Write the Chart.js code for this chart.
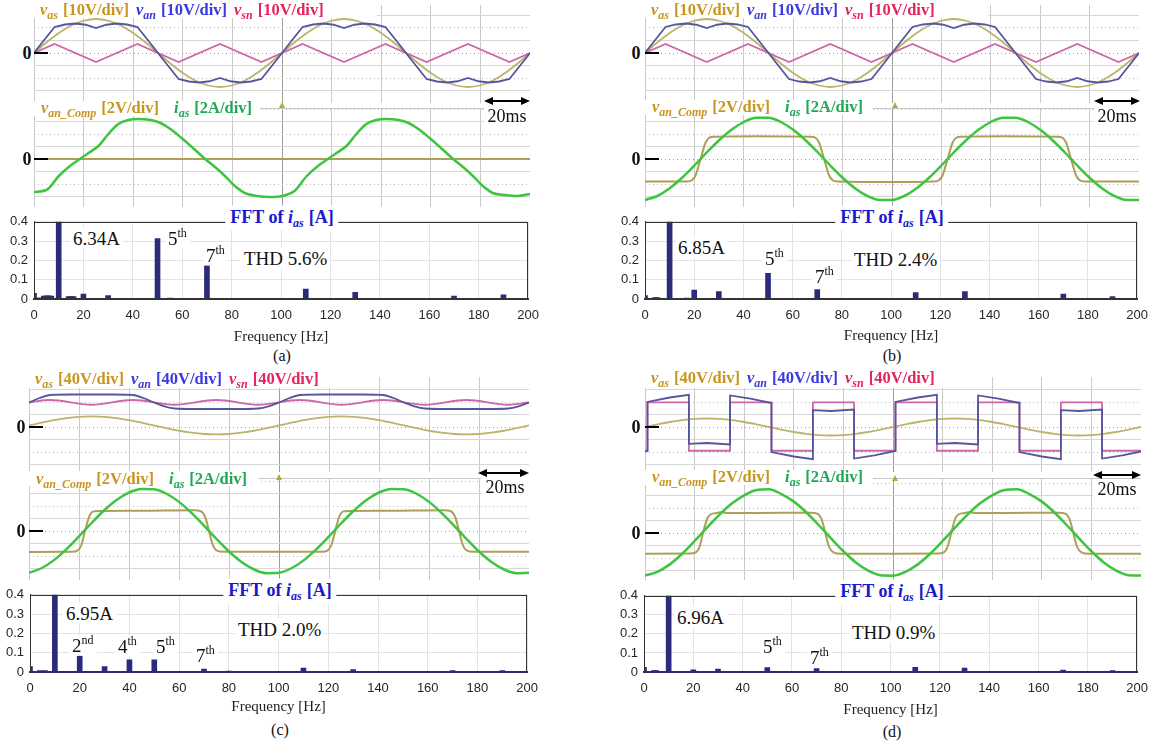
<!DOCTYPE html>
<html><head><meta charset="utf-8">
<script src="https://cdn.jsdelivr.net/npm/chart.js@4.4.1/dist/chart.umd.min.js"></script>
<style>
html,body{margin:0;padding:0;background:#fff}
body{width:1157px;height:747px;position:relative;overflow:hidden;font-family:"Liberation Serif","Times New Roman",serif;color:#111}
canvas{position:absolute}
.box{position:absolute;background:#fff;white-space:nowrap;font-weight:bold;font-size:16.5px;box-sizing:border-box;line-height:1}
.lt{position:absolute;white-space:nowrap;font-weight:bold;font-size:16.5px;line-height:1;transform:translateY(-50%)}
.lt sub,.ft sub{font-size:12px;vertical-align:-4px;font-style:italic;margin-right:5px}
.lt .g{margin-right:7px}
.ann{position:absolute;white-space:nowrap;line-height:1;font-size:19px;background:#fff;padding:1px 3px;transform:translateY(-50%)}
.ann .s{font-size:12px;position:relative;top:-8px}
.zero{position:absolute;font-weight:bold;font-size:18px;line-height:1;transform:translate(-50%,-50%)}
.dash{position:absolute;height:2px;background:#000}
.ft{position:absolute;background:#fff;color:#1a1acb;font-weight:bold;font-size:18px;line-height:1;padding:2px 5px;transform:translate(-50%,-50%);white-space:nowrap}
.cap{position:absolute;font-size:16px;line-height:1;transform:translate(-50%,-50%);white-space:nowrap}
.ms{position:absolute;background:#fff;font-size:18px;line-height:1;display:flex;align-items:center;justify-content:center}
.band{position:absolute;background:#fff;border-bottom:1px solid #c8c8c8;box-sizing:border-box}
.trig{position:absolute;width:0;height:0;border-left:3.5px solid transparent;border-right:3.5px solid transparent;border-bottom:6px solid #b9a640}
</style></head><body>
<script>
// ================= DATA =================
// time bases (ms)
const T5=[0,5,10,15,20,25,30,35,40,45,50,55,60,65,70,75,80,85,90,95,100,105,110,115,120,125,130,135,140,145,150,155,160,165,170,175,180,185,190,195,200];
const T24=[0,4.2,8.3,12.5,16.7,20.8,25,29.2,33.3,37.5,41.7,45.8,50,54.2,58.3,62.5,66.7,70.8,75,79.2,83.3,87.5,91.7,95.8,100,104.2,108.3,112.5,116.7,120.8,125,129.2,133.3,137.5,141.7,145.8,150,154.2,158.3,162.5,166.7,170.8,175,179.2,183.3,187.5,191.7,195.8,200];

// panels (a),(b) upper traces [V]
const vasAB=[0,4.2,8.0,11.0,12.9,13.6,12.9,11.0,8.0,4.2,0,-4.2,-8.0,-11.0,-12.9,-13.6,-12.9,-11.0,-8.0,-4.2,0,4.2,8.0,11.0,12.9,13.6,12.9,11.0,8.0,4.2,0,-4.2,-8.0,-11.0,-12.9,-13.6,-12.9,-11.0,-8.0,-4.2,0];
const vanAB=[0,5.3,10.4,11.4,11.8,11.3,10.0,11.3,11.8,11.4,10.4,5.3,0,-5.3,-10.4,-11.4,-11.8,-11.3,-10.0,-11.3,-11.8,-11.4,-10.4,-5.3,0,5.3,10.4,11.4,11.8,11.3,10.0,11.3,11.8,11.4,10.4,5.3,0,-5.3,-10.4,-11.4,-11.8,-11.3,-10.0,-11.3,-11.8,-11.4,-10.4,-5.3,0];
const vsnAB_t=[0,8.3,25,41.7,58.3,75,91.7,108.3,125,141.7,158.3,175,191.7,200];
const vsnAB=[0,3.6,-3.6,3.6,-3.6,3.6,-3.6,3.6,-3.6,3.6,-3.6,3.6,-3.6,0];

// panel (a) lower traces
const iasA_t=[0,5,10,15,18.5,22,26,30,34,38,42,47,51,55,60,65,69,73,77,81,85,90,95,100,105,110,115,118.5,122,126,130,134,138,142,147,151,155,160,165,169,173,177,181,185,190,195,200];
const iasA=[-2.64,-2.48,-1.36,-0.48,0,0.48,1.04,2.0,2.8,3.12,3.2,3.12,2.88,2.4,1.6,0.72,0,-0.64,-1.36,-2.16,-2.72,-2.96,-3.04,-2.96,-2.56,-1.36,-0.48,0,0.48,1.04,2.0,2.8,3.12,3.2,3.12,2.88,2.4,1.6,0.72,0,-0.64,-1.36,-2.16,-2.72,-2.88,-2.96,-2.8];
const vancA_t=[0,200];
const vancA=[0,0];

// panel (b) lower traces
const iasB=[-3.28,-2.96,-2.34,-1.5,-0.52,0.52,1.5,2.34,2.96,3.3,3.3,2.96,2.34,1.5,0.52,-0.52,-1.5,-2.34,-2.96,-3.28,-3.28,-2.96,-2.34,-1.5,-0.52,0.52,1.5,2.34,2.96,3.3,3.3,2.96,2.34,1.5,0.52,-0.52,-1.5,-2.34,-2.96,-3.28,-3.28];
const vancB_t=[0,17,19,20.5,22.5,24.5,26,28,45,67,69,70.5,72.5,74.5,76,78,100,117,119,120.5,122.5,124.5,126,128,145,167,169,170.5,172.5,174.5,176,178,200];
const vancB=[-1.8,-1.8,-1.7,-1.3,0,1.3,1.7,1.78,1.82,1.78,1.7,1.3,0,-1.3,-1.7,-1.8,-1.84,-1.8,-1.7,-1.3,0,1.3,1.7,1.78,1.82,1.78,1.7,1.3,0,-1.3,-1.7,-1.8,-1.8];

// panel (c) traces
const vasC=[2.5,6.9,11.0,14.1,16.2,16.9,16.2,14.1,11.0,6.9,2.5,-1.9,-6.0,-9.1,-11.2,-11.9,-11.2,-9.1,-6.0,-1.9,2.5,6.9,11.0,14.1,16.2,16.9,16.2,14.1,11.0,6.9,2.5,-1.9,-6.0,-9.1,-11.2,-11.9,-11.2,-9.1,-6.0,-1.9,2.5];
const vanC_t=[0,4.2,8.3,16.7,25,33.3,41.7,45.8,50,54.2,58.3,66.7,75,83.3,91.7,95.8,100,104.2,108.3,116.7,125,133.3,141.7,145.8,150,154.2,158.3,166.7,175,183.3,191.7,195.8,200];
const vanC=[39.2,46.4,51.2,52,52,52,51.2,46.4,39.2,33,29.6,28.8,28.8,28.8,29.6,33,39.2,46.4,51.2,52,52,52,51.2,46.4,39.2,33,29.6,28.8,28.8,28.8,29.6,33,39.2];
const vsnC_t=[0,8.3,25,41.7,58.3,75,91.7,108.3,125,141.7,158.3,175,191.7,200];
const vsnC=[39.2,43.2,35.6,43.2,35.6,43.2,35.6,43.2,35.6,43.2,35.6,43.2,35.6,39.2];
const iasC=[-3.34,-2.98,-2.33,-1.45,-0.43,0.64,1.64,2.48,3.08,3.37,3.34,2.98,2.33,1.45,0.43,-0.64,-1.64,-2.48,-3.08,-3.37,-3.34,-2.98,-2.33,-1.45,-0.43,0.64,1.64,2.48,3.08,3.37,3.34,2.98,2.33,1.45,0.43,-0.64,-1.64,-2.48,-3.08,-3.37,-3.34];
const vancC_t=[0,17,19.5,21,22.4,24,25.5,28,45,66,68.5,70.5,72,73.5,75,78,100,117,119.5,121,122.5,124,125.5,128,145,166,168.5,170.5,172,173.5,175,178,200];
const vancC=[-1.68,-1.66,-1.55,-1.1,0,1.1,1.55,1.6,1.62,1.66,1.6,1.1,0,-1.1,-1.55,-1.66,-1.66,-1.66,-1.55,-1.1,0,1.1,1.55,1.6,1.62,1.66,1.6,1.1,0,-1.1,-1.55,-1.66,-1.66];

// panel (d) traces
const vasD=[0,4.2,8.0,11.0,12.9,13.6,12.9,11.0,8.0,4.2,0,-4.2,-8.0,-11.0,-12.9,-13.6,-12.9,-11.0,-8.0,-4.2,0,4.2,8.0,11.0,12.9,13.6,12.9,11.0,8.0,4.2,0,-4.2,-8.0,-11.0,-12.9,-13.6,-12.9,-11.0,-8.0,-4.2,0];
const vsnD_t=[0,1,1,17.7,17.7,34.3,34.3,51,51,67.7,67.7,84.3,84.3,101,101,117.7,117.7,134.3,134.3,151,151,167.7,167.7,184.3,184.3,200];
const vsnD=[-38,-38,39.5,39.5,-38,-38,39.5,39.5,-38,-38,39.5,39.5,-38,-38,39.5,39.5,-38,-38,39.5,39.5,-38,-38,39.5,39.5,-38,-38];
const vanD_t=[0,1,1,10,17.7,17.7,25,34.3,34.3,42.5,51,51,60,67.7,67.7,75,84.3,84.3,92.5,101,101,110,117.7,117.7,125,134.3,134.3,142.5,151,151,160,167.7,167.7,175,184.3,184.3,192.5,200];
const vanD=[-39.2,-38.4,40.1,47.2,51.4,-27.0,-25.6,-27.9,50.5,45.4,38.4,-40.1,-47.2,-51.4,27.0,25.6,27.9,-50.5,-45.4,-38.4,40.1,47.2,51.4,-27.0,-25.6,-27.9,50.5,45.4,38.4,-40.1,-47.2,-51.4,27.0,25.6,27.9,-50.5,-45.4,-39.2];
const iasD=[-3.41,-3.11,-2.51,-1.66,-0.64,0.43,1.46,2.36,3.01,3.44,3.5,3.11,2.51,1.66,0.64,-0.43,-1.46,-2.36,-3.01,-3.38,-3.41,-3.11,-2.51,-1.66,-0.64,0.43,1.46,2.36,3.01,3.44,3.5,3.11,2.51,1.66,0.64,-0.43,-1.46,-2.36,-3.01,-3.38,-3.41];
const vancD_t=[0,18,20.5,22,23.4,25,26.5,29,31,33,45,67,69.5,71.2,72.7,74.2,76,79,100,118,120.5,122,123.5,125,126.5,129,131,133,145,167,169.5,171.2,172.7,174.2,176,179,200];
const vancD=[-1.66,-1.64,-1.55,-1.1,0,1.1,1.5,1.6,1.68,1.6,1.6,1.62,1.55,1.1,0,-1.1,-1.55,-1.66,-1.66,-1.64,-1.55,-1.1,0,1.1,1.5,1.6,1.68,1.6,1.6,1.62,1.55,1.1,0,-1.1,-1.55,-1.66,-1.66];

// FFT of ias [A]
const fftA_f=[0,2,4,5,6,7,10,14,15,16,20,30,40,50,55,70,90,110,130,150,170,190];
const fftA=[0.03,0.006,0.015,0.017,0.016,0.015,6.34,0.012,0.013,0.012,0.025,0.018,0.004,0.313,0.005,0.173,0.003,0.051,0.035,0.004,0.015,0.021];
const fftB_f=[0,4,5,10,17,20,25,30,40,50,70,110,130,150,170,190];
const fftB=[0.018,0.008,0.008,6.85,0.005,0.046,0.003,0.038,0.003,0.133,0.049,0.033,0.038,0.003,0.026,0.013];
const fftC_f=[0,4,6,10,15,17,20,30,40,50,70,80,110,130,150,170,190];
const fftC=[0.028,0.008,0.007,6.95,0.004,0.004,0.082,0.028,0.063,0.063,0.015,0.005,0.02,0.013,0.003,0.008,0.008];
const fftD_f=[0,4,5,10,15,20,30,50,70,110,130,170,190];
const fftD=[0.025,0.008,0.008,6.96,0.004,0.012,0.015,0.023,0.018,0.025,0.02,0.01,0.007];

// tick labels
const fftXTicks=[0,20,40,60,80,100,120,140,160,180,200];
const fftYTicks=[0,0.1,0.2,0.3,0.4];

// ================= HELPERS =================
function cv(x,y,w,h){const c=document.createElement('canvas');c.width=w;c.height=h;c.style.left=x+'px';c.style.top=y+'px';c.style.width=w+'px';c.style.height=h+'px';document.body.appendChild(c);return c;}
function el(html){document.body.insertAdjacentHTML('beforeend',html);}
function tr(t,v,div,off,color,w,smooth){
  const d={data:t.map((x,i)=>({x:x,y:v[i]/div+off})),borderColor:color,borderWidth:w,pointRadius:0,fill:false,tension:0};
  if(smooth){d.cubicInterpolationMode='monotone';}
  return d;
}
const C_VAS='#bcb46a',C_VAN='#55569e',C_VSN='#cd67a5',C_IAS='#3ec43f',C_VANC='#ad9f55';

function scope(r,yMin,yMax,up,datasets){
  const c=cv(r[0],r[1],r[2],r[3]);
  const tk=[];
  for(let k=-4;k<=4;k++){tk.push({v:k*0.5,k:k});tk.push({v:up+k*0.5,k:k});}
  const list=tk.filter(o=>o.v>yMin+0.02&&o.v<yMax-0.02);
  const kind=v=>{const o=list.find(q=>Math.abs(q.v-v)<1e-6);return o?o.k:1;};
  new Chart(c,{type:'line',data:{datasets:datasets},options:{responsive:false,animation:false,devicePixelRatio:1,events:[],
    layout:{padding:0},plugins:{legend:{display:false},tooltip:{enabled:false}},
    scales:{
      x:{type:'linear',min:0,max:200,ticks:{display:false,stepSize:20},
         grid:{drawTicks:false,color:ctx=>(ctx.tick&&ctx.tick.value===100)?'#9c9c9c':'#c9c9c9'},border:{display:false}},
      y:{type:'linear',min:yMin,max:yMax,ticks:{display:false},
         afterBuildTicks:s=>{s.ticks=list.map(o=>({value:o.v}));},
         grid:{drawTicks:false,color:ctx=>{const k=ctx.tick?kind(ctx.tick.value):1;return k===0?'#9e9e9e':(Math.abs(k)%2===1?'#d6d6d6':'#bdbdbd');}},
         border:{display:false,dash:ctx=>{const k=ctx.tick?kind(ctx.tick.value):1;return (Math.abs(k)%2===1)?[]:[1,3];}}}
    }}});
}

const boxPlugin={id:'box',afterDraw(ch){const a=ch.chartArea,x=ch.ctx;x.save();x.strokeStyle='#333';x.lineWidth=1;x.strokeRect(Math.round(a.left)+0.5,Math.round(a.top)+0.5,Math.round(a.right-a.left)-1,Math.round(a.bottom-a.top)-1);x.restore();}};

function fftChart(p,f,v){
  const left=p.L-p.yw,top=p.T-10,w=p.R-p.L+p.yw+18,h=p.B-p.T+10+p.xh;
  const c=cv(left,top,w,h);
  new Chart(c,{type:'bar',data:{datasets:[{data:f.map((x,i)=>({x:x,y:v[i]})),backgroundColor:'#2b2b7c',barThickness:5,borderWidth:0}]},
    options:{responsive:false,animation:false,devicePixelRatio:1,events:[],
      layout:{padding:{top:10,right:18,left:0,bottom:0}},plugins:{legend:{display:false},tooltip:{enabled:false}},
      scales:{
        x:{type:'linear',min:0,max:200,offset:false,afterBuildTicks:s=>{s.ticks=fftXTicks.map(q=>({value:q}));},
           ticks:{font:{family:'Liberation Sans',size:13},color:'#262626',padding:9,maxRotation:0,autoSkip:false},
           grid:{offset:false,color:'#e3e3e3',drawTicks:false},border:{color:'#2b2b70',width:2},
           title:{display:true,text:'Frequency [Hz]',font:{family:'Liberation Serif',size:15},color:'#222',padding:0},
           afterFit:s=>{s.height=p.xh;}},
        y:{min:0,max:0.4,afterBuildTicks:s=>{s.ticks=fftYTicks.map(q=>({value:q}));},
           ticks:{font:{family:'Liberation Sans',size:13},color:'#262626',padding:6,callback:q=>q===0?'0':q.toFixed(1)},
           grid:{color:'#e3e3e3',drawTicks:false},border:{color:'#333'},afterFit:s=>{s.width=p.yw;}}
      }},plugins:[boxPlugin]});
}

// ================= SCOPES =================
scope([34,5,496,202],-1.92,6.16,4.24,[
  tr(T24,vanAB,10,4.24,C_VAN,1.8,false),
  tr(vsnAB_t,vsnAB,10,4.24,C_VSN,1.8,false),
  tr(T5,vasAB,10,4.24,C_VAS,1.8,true),
  tr(iasA_t,iasA,2,0,C_IAS,2.5,true),
  tr(vancA_t,vancA,2,0,C_VANC,2,false)
]);
scope([645,5,494,202],-1.92,6.16,4.24,[
  tr(T24,vanAB,10,4.24,C_VAN,1.8,false),
  tr(vsnAB_t,vsnAB,10,4.24,C_VSN,1.8,false),
  tr(T5,vasAB,10,4.24,C_VAS,1.8,true),
  tr(T5,iasB,2,0,C_IAS,2.5,true),
  tr(vancB_t,vancB,2,0,C_VANC,2,true)
]);
scope([29,377,500,203],-1.96,6.16,4.16,[
  tr(vanC_t,vanC,40,4.16,C_VAN,1.8,true),
  tr(vsnC_t,vsnC,40,4.16,C_VSN,1.8,true),
  tr(T5,vasC,40,4.16,C_VAS,1.8,true),
  tr(T5,iasC,2,0,C_IAS,2.5,true),
  tr(vancC_t,vancC,2,0,C_VANC,2,true)
]);
scope([645,377,496,203],-1.88,6.24,4.24,[
  tr(vanD_t,vanD,40,4.24,C_VAN,1.8,false),
  tr(vsnD_t,vsnD,40,4.24,C_VSN,1.8,false),
  tr(T5,vasD,40,4.24,C_VAS,1.8,true),
  tr(T5,iasD,2,0,C_IAS,2.5,true),
  tr(vancD_t,vancD,2,0,C_VANC,2,true)
]);

// ================= FFTs =================
fftChart({L:34,T:218,R:530,B:299,yw:34,xh:47},fftA_f,fftA);
fftChart({L:645,T:218,R:1139,B:299,yw:40,xh:46},fftB_f,fftB);
fftChart({L:30,T:591,R:529,B:672,yw:30,xh:44},fftC_f,fftC);
fftChart({L:644,T:592,R:1139,B:672,yw:40,xh:47},fftD_f,fftD);

// ================= OVERLAY TEXT =================
function legendTop(bx,by,bw,bh,cy,div){
  el(`<div class="box" style="left:${bx}px;top:${by}px;width:${bw}px;height:${bh}px"></div>`);
  el(`<div class="lt" style="left:${bx+6}px;top:${cy}px"><span class="g" style="color:#c8961e"><i>v</i><sub>as</sub>[${div}V/div]</span><span class="g" style="color:#3a3ae0"><i>v</i><sub>an</sub>[${div}V/div]</span><span style="color:#e4245c"><i>v</i><sub>sn</sub>[${div}V/div]</span></div>`);
}
function legendBot(bx,by,bw,bh,cy){
  el(`<div class="box" style="left:${bx}px;top:${by}px;width:${bw}px;height:${bh}px"></div>`);
  el(`<div class="lt" style="left:${bx+7}px;top:${cy}px"><span style="color:#c8961e;margin-right:15px"><i>v</i><sub>an_Comp</sub>[2V/div]</span><span style="color:#1fa855"><i>i</i><sub>as</sub>[2A/div]</span></div>`);
}
function zero(cx,cy,dx){el(`<div class="zero" style="left:${cx}px;top:${cy}px">0</div><div class="dash" style="left:${dx}px;top:${cy-1}px;width:14px"></div>`);}
function arrow(x1,x2,y){const w=x2-x1;el(`<svg style="position:absolute;left:${x1}px;top:${y-5}px" width="${w}" height="10"><line x1="6" y1="5" x2="${w-6}" y2="5" stroke="#000" stroke-width="2"/><polygon points="0,5 9,1 9,9" fill="#000"/><polygon points="${w},5 ${w-9},1 ${w-9},9" fill="#000"/></svg>`);}
function ms(x,y,w,h){el(`<div class="ms" style="left:${x}px;top:${y}px;width:${w}px;height:${h}px">20ms</div>`);}
function band(x,y,w,h){el(`<div class="band" style="left:${x}px;top:${y}px;width:${w}px;height:${h}px"></div>`);}
function trig(x,y){el(`<div class="trig" style="left:${x-3.5}px;top:${y-3}px"></div>`);}
function fftTitle(cx,cy){el(`<div class="ft" style="left:${cx}px;top:${cy}px">FFT of <i>i</i><sub>as</sub>[A]</div>`);}
function ann(x,cy,html){el(`<div class="ann" style="left:${x-3}px;top:${cy}px">${html}</div>`);}
function cap(cx,cy,t){el(`<div class="cap" style="left:${cx}px;top:${cy}px">${t}</div>`);}
const th='<span class="s">th</span>',nd='<span class="s">nd</span>';

// panel (a)
legendTop(34,0,343,18,11,10); band(260,103,270,6); legendBot(34,101,226,15,109); trig(282,105);
arrow(484,530,101); ms(484,107,46,17);
zero(27,53,34); zero(27,159,34);
fftTitle(282,218);
ann(73,238,'6.34A'); ann(168,238,'5'+th); ann(206,255,'7'+th); ann(244,258,'THD 5.6%');
cap(282,356,'(a)');
// panel (b)
legendTop(645,0,343,18,11,10); band(873,103,266,6); legendBot(645,100,228,15,108); trig(895,105);
arrow(1094,1140,101); ms(1094,107,46,17);
zero(636,53,645); zero(636,159,645);
fftTitle(892,218);
ann(678,247,'6.85A'); ann(765,258,'5'+th); ann(815,276,'7'+th); ann(854,259,'THD 2.4%');
cap(892,356,'(b)');
// panel (c)
legendTop(29,366,344,22,380,40); band(258,472,271,7); legendBot(29,471,229,15,480); trig(279,477);
arrow(478,529,473); ms(481,478,48,18);
zero(21,427,29); zero(21,531,29);
fftTitle(280,591);
ann(66,613,'6.95A'); ann(72,645,'2'+nd); ann(118,646,'4'+th); ann(156,646,'5'+th); ann(196,655,'7'+th); ann(238,629,'THD 2.0%');
cap(280,730,'(c)');
// panel (d)
legendTop(645,366,342,22,379,40); band(873,472,268,7); legendBot(645,470,228,15,478); trig(895,478);
arrow(1093,1141,475); ms(1093,480,48,18);
zero(636,427,645); zero(636,533,645);
fftTitle(892,592);
ann(677,617,'6.96A'); ann(763,646,'5'+th); ann(810,657,'7'+th); ann(852,632,'THD 0.9%');
cap(892,732,'(d)');
</script>
</body></html>
